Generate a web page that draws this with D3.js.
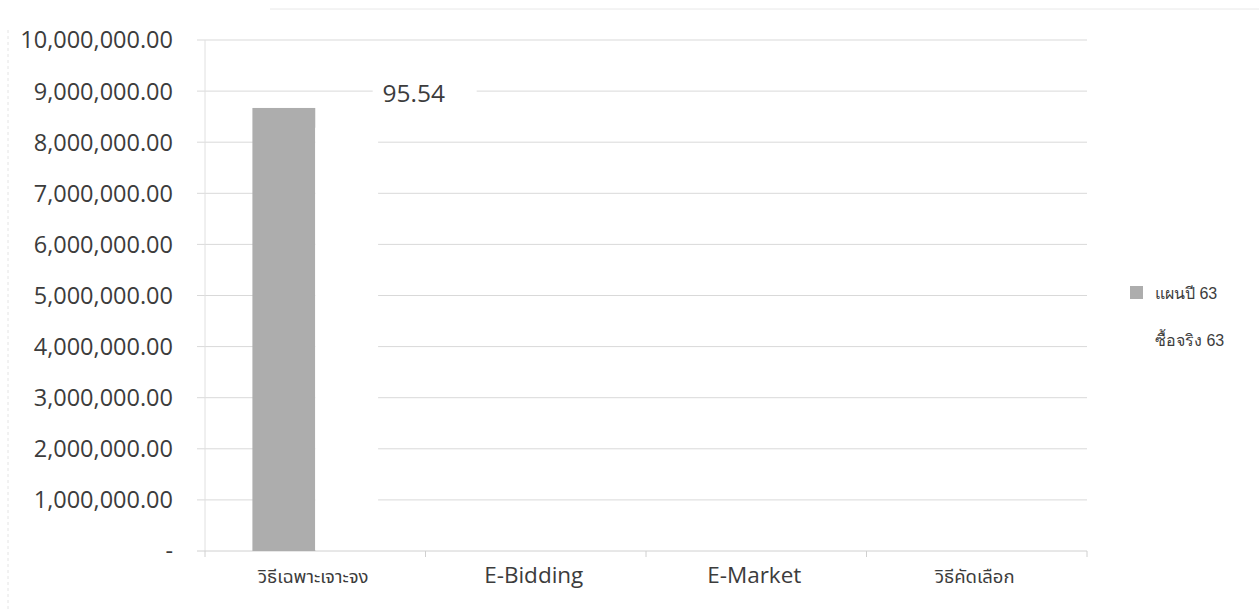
<!DOCTYPE html>
<html><head><meta charset="utf-8">
<script src="https://cdn.jsdelivr.net/npm/d3@7/dist/d3.min.js"></script>
<style>
body{margin:0;background:#fff;}
svg{display:block;}
</style></head>
<body>
<svg id="chart" width="1259" height="616"></svg>
<script>
const categories = ["วิธีเฉพาะเจาะจง", "E-Bidding", "E-Market", "วิธีคัดเลือก"];
const seriesNames = ["แผนปี 63", "ซื้อจริง 63"];
const planValues = [8670000, 0, 0, 0];
const actualValues = [8283000, 0, 0, 0];
const actualLabels = ["95.54", "", "", ""];
const yTicks = [0, 1000000, 2000000, 3000000, 4000000, 5000000, 6000000, 7000000, 8000000, 9000000, 10000000];

const svg = d3.select("#chart");
const W = 1259, H = 616;
const m = {left: 205, right: 172, top: 40, bottom: 65};
const pw = W - m.left - m.right, ph = H - m.top - m.bottom;

// faint scan border
svg.append("line").attr("x1", 8).attr("x2", 8).attr("y1", 30).attr("y2", 610)
  .attr("stroke", "#e4e4e4").attr("stroke-dasharray", "3,3");
svg.append("line").attr("x1", 270).attr("x2", 1259).attr("y1", 9).attr("y2", 9)
  .attr("stroke", "#e8e8e8");

const g = svg.append("g").attr("transform", `translate(${m.left},${m.top})`);

const x0 = d3.scaleBand().domain(categories).range([0, pw]).paddingInner(0).paddingOuter(0);
const x1 = d3.scaleBand().domain(seriesNames).range([x0.bandwidth()*0.215, x0.bandwidth()*0.785]);
const y = d3.scaleLinear().domain([0, 10000000]).range([ph, 0]);

// gridlines
g.selectAll(".grid").data(yTicks.filter(d => d > 0)).join("line")
  .attr("x1", -8).attr("x2", pw).attr("y1", d => y(d)).attr("y2", d => y(d))
  .attr("stroke", "#d9d9d9").attr("stroke-width", 1);

// y axis labels
const fmt = d3.format(",.2f");
g.selectAll(".ylab").data(yTicks).join("text")
  .attr("x", -32).attr("y", d => y(d)).attr("dy", "0.36em")
  .attr("text-anchor", "end")
  .attr("font-family", "'Open Sans', sans-serif").attr("font-size", 23.5)
  .attr("fill", "#3c3c3c")
  .text(d => d === 0 ? "-" : fmt(d));

// left axis line
g.append("line").attr("x1", 0).attr("x2", 0).attr("y1", 0).attr("y2", ph)
  .attr("stroke", "#e0e0e0");

// x axis line + ticks
const xAxis = g.append("g").attr("transform", `translate(0,${ph})`);
xAxis.append("line").attr("x1", -8).attr("x2", pw).attr("stroke", "#d0d0d0");
const tickPos = categories.map(c => x0(c)).concat([pw]);
xAxis.selectAll(".tk").data(tickPos).join("line")
  .attr("x1", d => d).attr("x2", d => d).attr("y1", 0).attr("y2", 6)
  .attr("stroke", "#d0d0d0");

// x labels
xAxis.selectAll(".xl").data(categories).join("text")
  .attr("x", d => x0(d) + x0.bandwidth()/2 - 2)
  .attr("y", 32)
  .attr("text-anchor", "middle")
  .attr("font-family", d => /^[A-Za-z]/.test(d) ? "'Open Sans', sans-serif" : "Tahoma, 'Noto Sans Thai', 'Noto Sans', sans-serif")
  .attr("font-size", d => /^[A-Za-z]/.test(d) ? 22.5 : 18.5)
  .attr("fill", "#3c3c3c")
  .text(d => d);

// bars
const planData = categories.map((c, i) => ({c, v: planValues[i]}));
g.selectAll(".plan").data(planData).join("rect")
  .attr("x", d => x0(d.c) + x1(seriesNames[0]))
  .attr("width", x1.bandwidth())
  .attr("y", d => y(d.v)).attr("height", d => ph - y(d.v))
  .attr("fill", "#adadad");

const actData = categories.map((c, i) => ({c, v: actualValues[i], l: actualLabels[i]}));
g.selectAll(".act").data(actData).join("rect")
  .attr("x", d => x0(d.c) + x1(seriesNames[1]))
  .attr("width", x1.bandwidth())
  .attr("y", d => y(d.v)).attr("height", d => Math.max(0, ph - y(d.v) - 1))
  .attr("fill", "#ffffff");

// label with white background knocking out the gridline
const lab = g.selectAll(".albl").data(actData.filter(d => d.l)).join("g");
lab.append("rect")
  .attr("x", d => x0(d.c) + x1(seriesNames[1]) + x1.bandwidth()/2 + 26)
  .attr("y", d => y(d.v) - 52).attr("width", 104).attr("height", 34)
  .attr("fill", "#fff");
lab.append("text")
  .attr("x", d => x0(d.c) + x1(seriesNames[1]) + x1.bandwidth()/2 + 67)
  .attr("y", d => y(d.v) - 35).attr("dy", "0.36em")
  .attr("text-anchor", "middle")
  .attr("font-family", "'Open Sans', sans-serif").attr("font-size", 24.5)
  .attr("fill", "#3c3c3c")
  .text(d => d.l);

// legend
const lg = svg.append("g").attr("transform", "translate(1130,293)");
const colors = ["#adadad", "#ffffff"];
seriesNames.forEach((s, i) => {
  lg.append("rect").attr("x", 0).attr("y", i*47 - 7).attr("width", 13).attr("height", 13)
    .attr("fill", colors[i]);
  lg.append("text").attr("x", 25).attr("y", i*47).attr("dy", "0.36em")
    .attr("font-family", "Tahoma, 'Liberation Sans', Arial, sans-serif").attr("font-size", 16)
    .attr("fill", "#3c3c3c").text(s);
});
</script>
</body></html>
